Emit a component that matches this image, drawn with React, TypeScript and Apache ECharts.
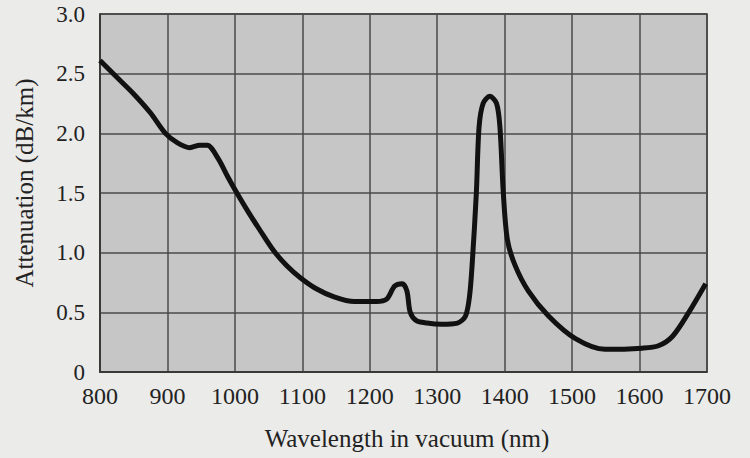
import React, { useEffect, useRef } from "react";
import * as echarts from "echarts";

const wavelengths = [800, 825, 850, 875, 897, 915, 933, 948, 959, 975, 990, 1003, 1020, 1037, 1057, 1077, 1097, 1120, 1147, 1177, 1210, 1225, 1237, 1248, 1255, 1260, 1269, 1285, 1306, 1330, 1342, 1348, 1352, 1358, 1362, 1368, 1378, 1388, 1393, 1398, 1404, 1415, 1435, 1465, 1505, 1549, 1604, 1628, 1649, 1673, 1698];
const attenuation = [2.61, 2.47, 2.33, 2.17, 2.0, 1.92, 1.88, 1.9, 1.9, 1.79, 1.63, 1.5, 1.34, 1.19, 1.02, 0.89, 0.79, 0.7, 0.63, 0.59, 0.59, 0.61, 0.72, 0.74, 0.68, 0.5, 0.43, 0.41, 0.4, 0.41, 0.47, 0.64, 0.92, 1.5, 2.05, 2.25, 2.31, 2.25, 2.05, 1.5, 1.11, 0.9, 0.68, 0.47, 0.28, 0.19, 0.2, 0.22, 0.3, 0.5, 0.74];
const xTicks = [800, 900, 1000, 1100, 1200, 1300, 1400, 1500, 1600, 1700];
const yTicks = [0, 0.5, 1.0, 1.5, 2.0, 2.5, 3.0];

const FONT = "Liberation Serif, Times New Roman, serif";

export default function App() {
  const ref = useRef<HTMLDivElement>(null);
  useEffect(() => {
    if (!ref.current) return;
    const chart = echarts.init(ref.current, null, { renderer: "svg" });
    chart.setOption({
      animation: false,
      backgroundColor: "#ebebe9",
      textStyle: { fontFamily: FONT },
      grid: { left: 100, top: 14, width: 607, height: 358, show: true, backgroundColor: "#c6c6c6", borderColor: "#333", borderWidth: 1.5 },
      xAxis: {
        type: "value",
        min: 800,
        max: 1700,
        interval: 100,
        name: "Wavelength in vacuum (nm)",
        nameLocation: "middle",
        nameGap: 54,
        nameTextStyle: { fontFamily: FONT, fontSize: 25, color: "#222", padding: [0, 0, 0, 7] },
        axisLine: { show: true, lineStyle: { color: "#333", width: 1.5 } },
        axisTick: { show: false },
        splitLine: { show: true, lineStyle: { color: "#4a4a4a", width: 1.5 } },
        axisLabel: {
          fontFamily: FONT,
          fontSize: 24,
          color: "#222",
          margin: 12,
          formatter: (v: number) => (xTicks.includes(v) ? String(v) : ""),
        },
      },
      yAxis: {
        type: "value",
        min: 0,
        max: 3,
        interval: 0.5,
        name: "Attenuation (dB/km)",
        nameLocation: "middle",
        nameGap: 63,
        nameTextStyle: { fontFamily: FONT, fontSize: 25, color: "#222", padding: [0, 0, 0, 20] },
        axisLine: { show: true, lineStyle: { color: "#333", width: 1.5 } },
        axisTick: { show: false },
        splitLine: { show: true, lineStyle: { color: "#4a4a4a", width: 1.5 } },
        axisLabel: {
          fontFamily: FONT,
          fontSize: 23,
          color: "#222",
          margin: 15,
          formatter: (v: number) => {
            if (!yTicks.includes(v)) return "";
            return v === 0 ? "0" : v.toFixed(1);
          },
        },
      },
      series: [
        {
          type: "line",
          data: wavelengths.map((w, i) => [w, attenuation[i]]),
          smooth: 0.3,
          showSymbol: false,
          lineStyle: { color: "#111", width: 5 },
        },
      ],
    });
    return () => chart.dispose();
  }, []);
  return <div ref={ref} style={{ position: "fixed", left: 0, top: 0, width: 750, height: 458 }} />;
}
